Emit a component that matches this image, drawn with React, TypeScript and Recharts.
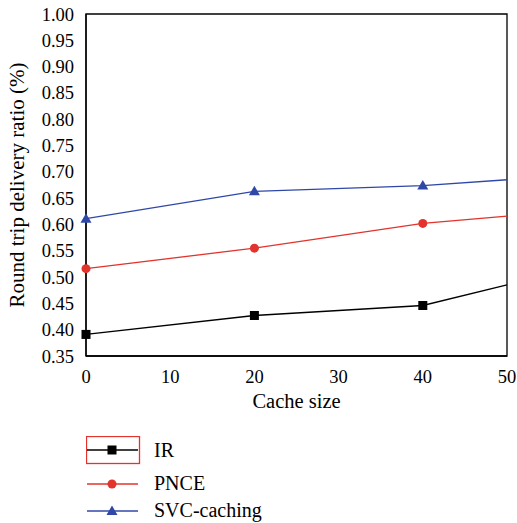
import React from "react";
import { LineChart, Line, XAxis, YAxis, ReferenceArea, Legend } from "recharts";

const cacheSizes = [0, 20, 40, 50];
const irValues = [0.391, 0.427, 0.446, 0.485];
const pnceValues = [0.516, 0.555, 0.602, 0.616];
const svcValues = [0.611, 0.663, 0.674, 0.685];
const xTicks = [0, 10, 20, 30, 40, 50];
const yTicks = [0.35, 0.4, 0.45, 0.5, 0.55, 0.6, 0.65, 0.7, 0.75, 0.8, 0.85, 0.9, 0.95, 1.0];
const seriesNames = ["IR", "PNCE", "SVC-caching"];

const data = cacheSizes.map((c, i) => ({
  cache: c,
  ir: irValues[i],
  pnce: pnceValues[i],
  svc: svcValues[i],
}));

const FONT = "Liberation Serif";
const BLACK = "#000000";
const RED = "#e2332c";
const BLUE = "#2f48a8";

type Shape = "square" | "circle" | "triangle";

function marker(shape: Shape, cx: number, cy: number, color: string, key?: string) {
  if (shape === "square") {
    return <rect key={key} x={cx - 4.5} y={cy - 4.5} width={9} height={9} fill={color} />;
  }
  if (shape === "circle") {
    return <circle key={key} cx={cx} cy={cy} r={4.5} fill={color} />;
  }
  return (
    <polygon
      key={key}
      points={`${cx},${cy - 5.5} ${cx + 5.5},${cy + 4} ${cx - 5.5},${cy + 4}`}
      fill={color}
    />
  );
}

const makeDot = (shape: Shape, color: string) => (props: any) => {
  const { cx, cy, index } = props;
  if (index === cacheSizes.length - 1 || cx == null || cy == null) {
    return <g key={`d-${shape}-${index}`} />;
  }
  return marker(shape, cx, cy, color, `d-${shape}-${index}`);
};

const legendShapes: Shape[] = ["square", "circle", "triangle"];
const legendColors = [BLACK, RED, BLUE];
const legendLineY = [14, 48, 75];
const legendTextY = [21, 54, 81];

const LegendContent = () => (
  <svg width={220} height={90} style={{ display: "block" }}>
    <rect x={0.5} y={0.5} width={53} height={27} fill="none" stroke={RED} strokeWidth={1.3} />
    {seriesNames.map((name, i) => (
      <g key={name}>
        <line x1={1} x2={52} y1={legendLineY[i]} y2={legendLineY[i]} stroke={legendColors[i]} strokeWidth={1.3} />
        {marker(legendShapes[i], 26, legendLineY[i], legendColors[i])}
        <text x={68} y={legendTextY[i]} fontFamily={FONT} style={{ fontFamily: FONT }} fontSize={20} fill="#000">
          {name}
        </text>
      </g>
    ))}
  </svg>
);

const tickStyle = { fill: "#000", fontFamily: FONT, fontSize: 18.5, style: { fontFamily: FONT } };

export default function App() {
  return (
    <div style={{ position: "absolute", left: 0, top: 0, width: 517, height: 523, background: "#fff", fontFamily: FONT }}>
      <LineChart
        width={517}
        height={523}
        data={data}
        margin={{ top: 14, right: 10, bottom: 113, left: 0 }}
        style={{ fontFamily: FONT }}
      >
        <XAxis
          dataKey="cache"
          type="number"
          domain={[0, 50]}
          ticks={xTicks}
          tickLine={false}
          tickSize={0}
          tickMargin={14}
          axisLine={{ stroke: BLACK, strokeWidth: 1.3 }}
          height={54}
          tick={tickStyle}
          label={{
            value: "Cache size",
            position: "insideBottom",
            offset: 2,
            fill: "#000",
            fontFamily: FONT,
            fontSize: 20.5,
            style: { fontFamily: FONT },
          }}
        />
        <YAxis
          type="number"
          domain={[0.35, 1.0]}
          ticks={yTicks}
          interval={0}
          tickLine={false}
          tickSize={0}
          tickMargin={12}
          width={86}
          axisLine={{ stroke: BLACK, strokeWidth: 1.3 }}
          tickFormatter={(v: number) => v.toFixed(2)}
          tick={tickStyle}
          label={{
            value: "Round trip delivery ratio (%)",
            angle: -90,
            position: "insideLeft",
            offset: 17,
            style: { textAnchor: "middle", fontFamily: FONT },
            fill: "#000",
            fontFamily: FONT,
            fontSize: 21,
          }}
        />
        <ReferenceArea
          x1={0}
          x2={50}
          y1={0.35}
          y2={1.0}
          fill="none"
          fillOpacity={0}
          stroke={BLACK}
          strokeWidth={1.3}
          ifOverflow="visible"
        />
        <Line
          dataKey="ir"
          name={seriesNames[0]}
          stroke={BLACK}
          strokeWidth={1.3}
          dot={makeDot("square", BLACK)}
          activeDot={false}
          isAnimationActive={false}
        />
        <Line
          dataKey="pnce"
          name={seriesNames[1]}
          stroke={RED}
          strokeWidth={1.3}
          dot={makeDot("circle", RED)}
          activeDot={false}
          isAnimationActive={false}
        />
        <Line
          dataKey="svc"
          name={seriesNames[2]}
          stroke={BLUE}
          strokeWidth={1.3}
          dot={makeDot("triangle", BLUE)}
          activeDot={false}
          isAnimationActive={false}
        />
        <Legend
          layout="vertical"
          align="center"
          verticalAlign="middle"
          content={<LegendContent />}
          wrapperStyle={{ position: "absolute", left: 86, top: 436, width: 220, height: 90 }}
        />
      </LineChart>
    </div>
  );
}
